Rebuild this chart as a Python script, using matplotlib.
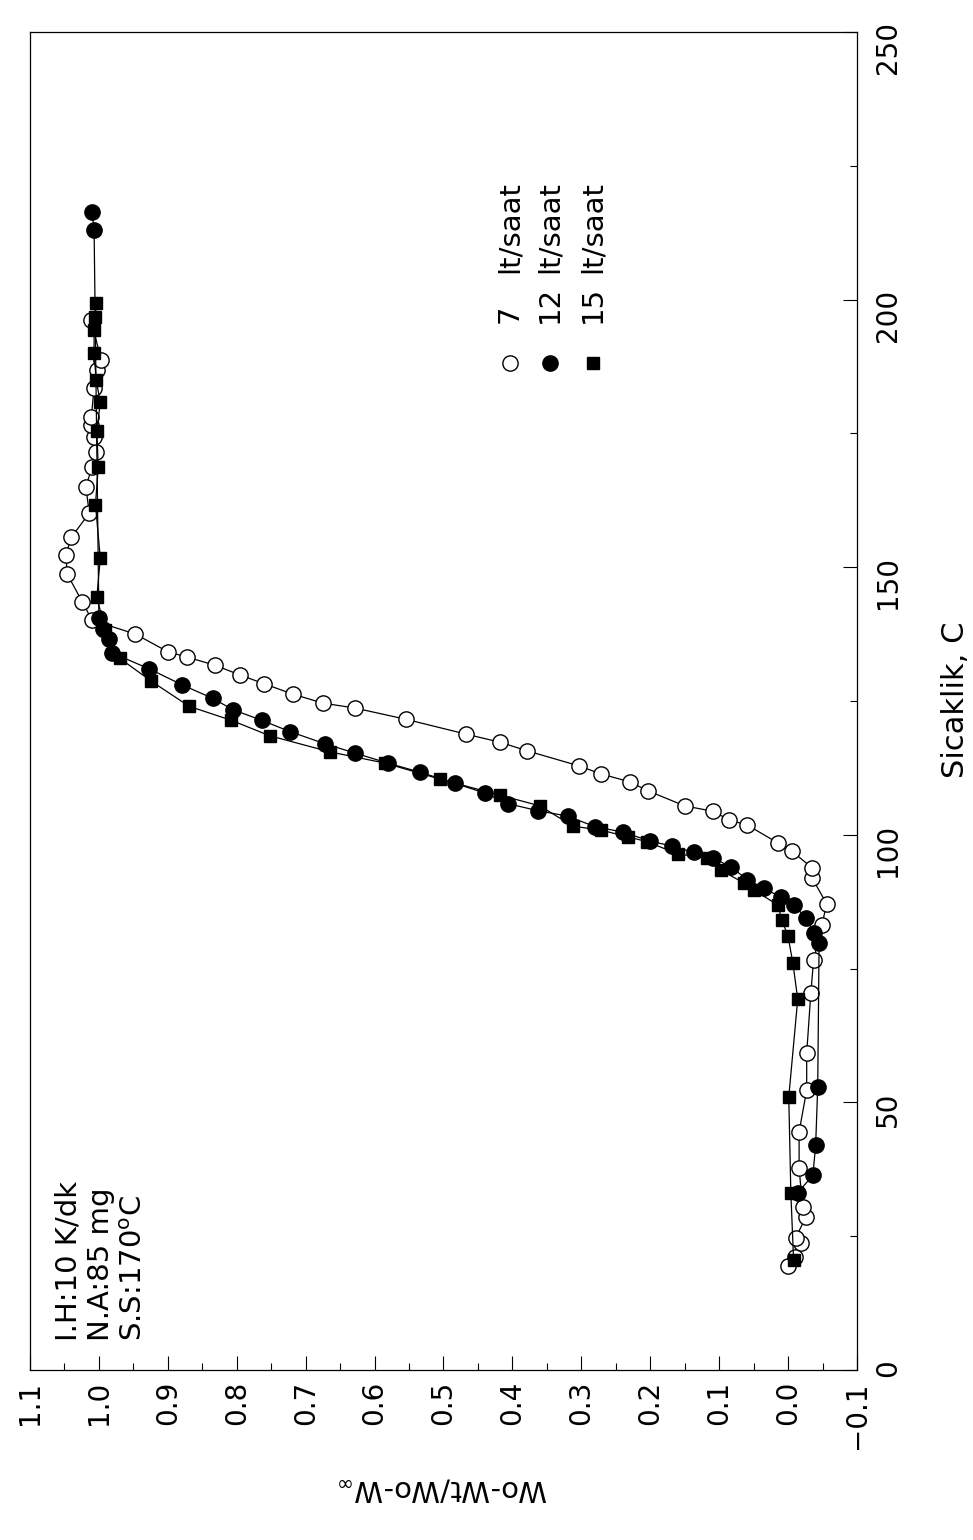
import matplotlib.pyplot as plt
from matplotlib.ticker import MultipleLocator, FuncFormatter

plt.rcParams['font.family'] = ['DejaVu Sans']

# 7 lt/saat (acik daire)
t7 = [19.4, 21.1, 23.7, 24.7, 28.6, 30.5, 37.7, 44.5, 52.3, 59.2, 70.4, 76.6, 83.1, 87.1,
      91.9, 93.8, 97.0, 98.5, 101.8, 102.8, 104.4, 105.4, 108.2, 109.9, 111.4, 112.9, 115.7,
      117.3, 118.8, 121.6, 123.7, 124.6, 126.3, 128.2, 129.9, 131.7, 133.2, 134.2, 137.5,
      140.1, 143.5, 148.7, 152.3, 155.6, 160.1, 165.0, 168.7, 171.5, 174.3, 176.6, 178.1,
      183.5, 186.8, 188.7, 196.2]
w7 = [0.000, -0.010, -0.019, -0.011, -0.026, -0.021, -0.016, -0.016, -0.027, -0.027, -0.033,
      -0.037, -0.049, -0.056, -0.035, -0.035, -0.005, 0.015, 0.059, 0.086, 0.109, 0.150, 0.203,
      0.230, 0.272, 0.304, 0.379, 0.418, 0.467, 0.555, 0.629, 0.675, 0.719, 0.760, 0.796,
      0.832, 0.872, 0.900, 0.947, 1.010, 1.024, 1.046, 1.048, 1.040, 1.014, 1.019, 1.010,
      1.004, 1.007, 1.011, 1.011, 1.007, 1.003, 0.997, 1.011]

# 12 lt/saat (dolu daire)
t12 = [33.1, 36.4, 42.0, 52.9, 79.8, 81.7, 84.5, 86.9, 88.4, 90.0, 91.6, 94.0, 95.7, 96.7,
       97.9, 98.8, 100.5, 101.5, 103.5, 104.5, 105.8, 107.8, 109.6, 111.7, 113.4, 115.3,
       117.0, 119.3, 121.4, 123.4, 125.5, 128.0, 131.0, 134.0, 136.5, 138.5, 140.6, 213.0,
       216.4]
w12 = [-0.014, -0.036, -0.040, -0.043, -0.045, -0.037, -0.026, -0.008, 0.011, 0.035, 0.059,
       0.083, 0.109, 0.137, 0.168, 0.200, 0.239, 0.280, 0.320, 0.363, 0.406, 0.440, 0.483,
       0.534, 0.581, 0.629, 0.672, 0.723, 0.764, 0.806, 0.835, 0.879, 0.927, 0.981, 0.985,
       0.994, 1.000, 1.007, 1.010]

# 15 lt/saat (dolu kare)
t15 = [20.5, 33.1, 51.0, 69.3, 76.0, 81.0, 84.1, 86.9, 89.7, 91.0, 93.4, 95.7, 96.4, 98.7,
       99.6, 100.9, 101.6, 105.4, 107.4, 110.4, 113.4, 115.5, 118.5, 121.4, 124.0, 128.7,
       133.0, 138.3, 144.4, 151.7, 161.7, 168.7, 175.4, 180.8, 185.0, 190.0, 194.3, 196.8,
       199.4]
w15 = [-0.008, -0.004, -0.001, -0.014, -0.007, 0.000, 0.009, 0.015, 0.050, 0.064, 0.098,
       0.117, 0.160, 0.204, 0.232, 0.272, 0.312, 0.360, 0.418, 0.505, 0.585, 0.665, 0.752,
       0.808, 0.869, 0.924, 0.970, 0.991, 1.003, 0.998, 1.005, 1.001, 1.003, 0.998, 1.004,
       1.007, 1.007, 1.005, 1.004]

series_names = ['7', '12', '15']
info_text = 'I.H:10 K/dk\nN.A:85 mg\nS.S:170$^{\\mathrm{o}}$C'

fig = plt.figure(figsize=(9.73, 15.4), dpi=100)
ax = fig.add_axes([30 / 973, 1 - 1370 / 1540, 827 / 973, 1338 / 1540])

# grafik yan yatmis: sicaklik dikey, oran yatay (ters)
ax.plot(w7, t7, '-o', color='black', lw=0.9, ms=11, mfc='white', mec='black', mew=1.0, zorder=2)
ax.plot(w12, t12, '-o', color='black', lw=0.9, ms=11, mfc='black', mec='black', zorder=3)
ax.plot(w15, t15, '-s', color='black', lw=0.9, ms=9, mfc='black', mec='black', zorder=4)

ax.set_xlim(1.1, -0.1)
ax.set_ylim(0, 250)
ax.xaxis.set_major_locator(MultipleLocator(0.1))
ax.xaxis.set_minor_locator(MultipleLocator(0.05))
ax.yaxis.set_major_locator(MultipleLocator(50))
ax.yaxis.set_minor_locator(MultipleLocator(25))
ax.xaxis.set_major_formatter(FuncFormatter(
    lambda v, p: ('%.1f' % v).replace('-', '\u2212') if abs(v) > 1e-9 else '0.0'))
ax.yaxis.tick_right()
ax.tick_params(which='both', direction='in', top=False, left=False, right=True, bottom=True,
               width=0.8)
ax.tick_params(which='major', length=10)
ax.tick_params(which='minor', length=5)
ax.tick_params(axis='x', labelrotation=90, labelsize=20, pad=8)
ax.tick_params(axis='y', labelrotation=90, labelsize=20, pad=12)
for s in ax.spines.values():
    s.set_linewidth(0.9)

# lejant
legend_style = [dict(marker='o', mfc='white'), dict(marker='o', mfc='black'),
                dict(marker='s', mfc='black')]
legend_x = [0.5804, 0.6288, 0.6808]
for name, st, lx in zip(series_names, legend_style, legend_x):
    ax.plot([lx], [0.7526], transform=ax.transAxes, ls='none', mec='black',
            ms=11 if st['marker'] == 'o' else 9, clip_on=False, **st)
    ax.text(lx, 0.7825, name, transform=ax.transAxes, rotation=90,
            ha='center', va='bottom', fontsize=21)
    ax.text(lx, 0.8199, 'lt/saat', transform=ax.transAxes, rotation=90,
            ha='center', va='bottom', fontsize=21)

ax.text(0.030, 0.022, info_text, transform=ax.transAxes, rotation=90,
        ha='left', va='bottom', fontsize=21, linespacing=1.2)

fig.text(955 / 973, 1 - 700 / 1540, 'Sicaklik, C', rotation=90,
         ha='center', va='center', fontsize=22)
fig.text(443 / 973, 50 / 1540, 'Wo-Wt/Wo-W$_\\infty$', rotation=180,
         ha='center', va='center', fontsize=21)

fig.savefig('out.png', dpi=100)
